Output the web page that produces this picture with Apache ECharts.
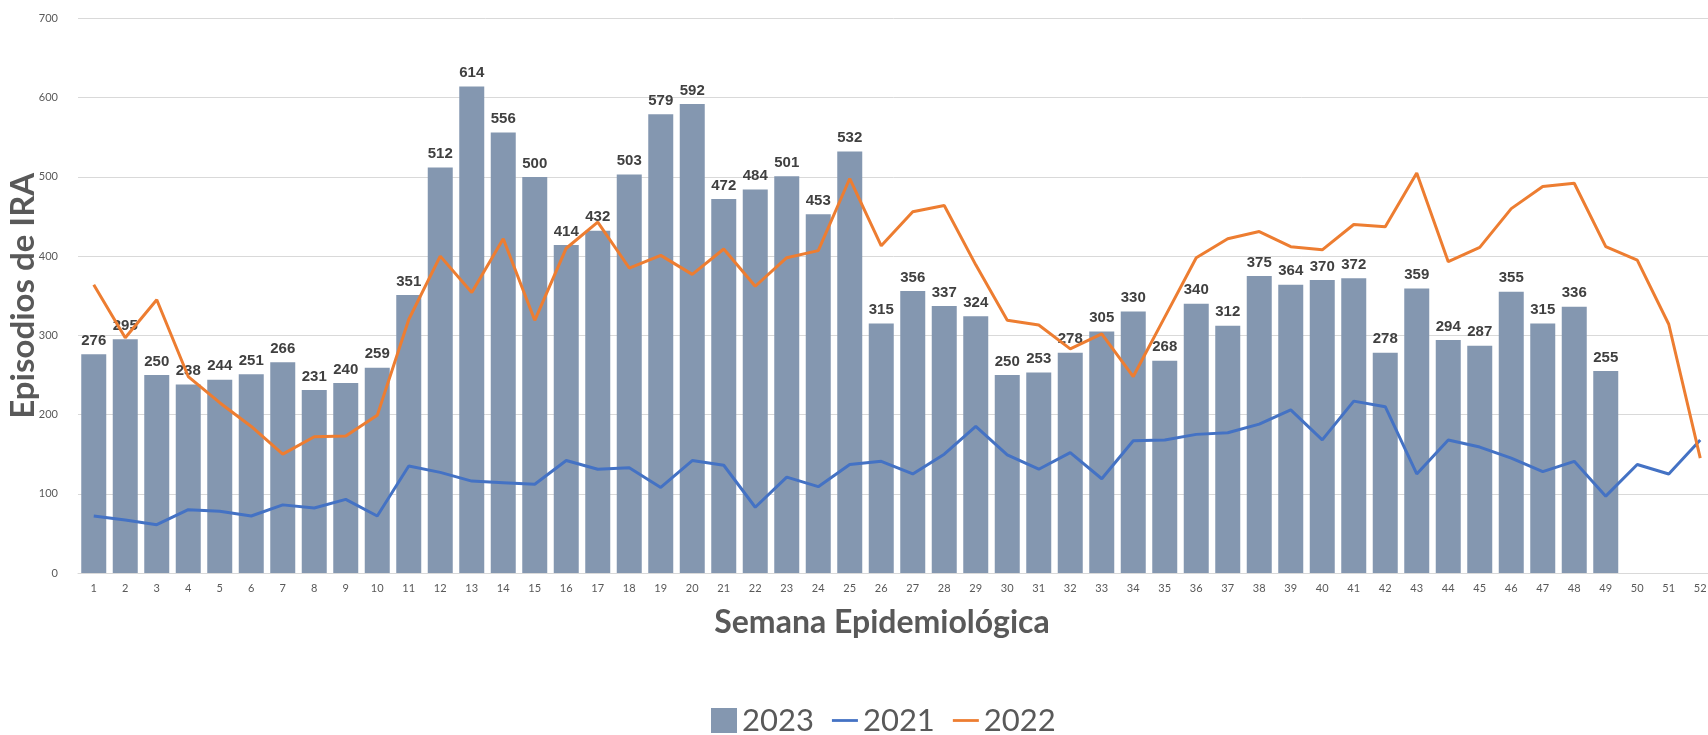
<!DOCTYPE html>
<html>
<head>
<meta charset="utf-8">
<script src="https://cdn.jsdelivr.net/npm/echarts@6/dist/echarts.min.js"></script>
<style>
  html, body { margin: 0; padding: 0; background: #ffffff; }
  #chart { width: 1708px; height: 735px; }
</style>
</head>
<body>
<div id="chart"></div>
<script>
// semanas epidemiologicas 1..52
var semanas = [];
for (var s = 1; s <= 52; s++) semanas.push(String(s));

var episodios2023 = [276, 295, 250, 238, 244, 251, 266, 231, 240, 259,
    351, 512, 614, 556, 500, 414, 432, 503, 579, 592,
    472, 484, 501, 453, 532, 315, 356, 337, 324, 250,
    253, 278, 305, 330, 268, 340, 312, 375, 364, 370,
    372, 278, 359, 294, 287, 355, 315, 336, 255, null, null, null];

var episodios2021 = [72, 67, 61, 80, 78, 72, 86, 82, 93, 72,
    135, 127, 116, 114, 112, 142, 131, 133, 108, 142,
    136, 83, 121, 109, 137, 141, 125, 150, 185, 149,
    131, 152, 119, 167, 168, 175, 177, 188, 206, 168,
    217, 210, 125, 168, 159, 145, 128, 141, 97, 137,
    125, 168];

var episodios2022 = [364, 297, 345, 248, 215, 185, 150, 172, 173, 199,
    320, 400, 354, 422, 319, 410, 443, 385, 401, 377,
    409, 362, 398, 407, 498, 413, 456, 464, 389, 319,
    313, 283, 302, 248, 323, 398, 422, 431, 412, 408,
    440, 437, 505, 393, 411, 460, 488, 492, 412, 395,
    314, 145];

var yTicks = [0, 100, 200, 300, 400, 500, 600, 700];

var grey = '#595959';
var lineIcon = 'path://M0,0 L28,0 L28,3 L0,3 Z';
var chart = echarts.init(document.getElementById('chart'));

var option = {
    backgroundColor: '#ffffff',
    animation: false,
    grid: {
        left: 78,
        width: 1638,
        top: 18.5,
        bottom: 162,
        outerBoundsMode: 'none'
    },
    legend: {
        left: 706,
        top: 700,
        itemWidth: 26,
        itemHeight: 25,
        itemGap: 18,
        textStyle: { fontFamily: 'Lato', fontSize: 31, color: grey },
        data: [
            { name: '2023', icon: 'rect' },
            { name: '2021', icon: lineIcon },
            { name: '2022', icon: lineIcon }
        ]
    },
    xAxis: {
        type: 'category',
        data: semanas,
        name: 'Semana Epidemiológica',
        nameLocation: 'middle',
        nameGap: 34,
        nameTextStyle: {
            fontFamily: 'Lato', fontSize: 32, fontWeight: 'bold', color: grey,
            padding: [0, 30, 0, 0]
        },
        axisLine: { lineStyle: { color: '#d9d9d9', width: 1 } },
        axisTick: { show: false },
        axisLabel: { color: grey, fontFamily: 'Lato', fontSize: 11, margin: 10 }
    },
    yAxis: {
        type: 'value',
        min: yTicks[0],
        max: yTicks[yTicks.length - 1],
        interval: 100,
        name: 'Episodios de IRA',
        nameLocation: 'middle',
        nameGap: 38,
        nameMoveOverlap: false,
        nameTextStyle: { fontFamily: 'Lato', fontSize: 33, fontWeight: 'bold', color: grey },
        axisLine: { show: false },
        axisTick: { show: false },
        axisLabel: { color: grey, fontFamily: 'Lato', fontSize: 11, margin: 20 },
        splitLine: { lineStyle: { color: '#d9d9d9', width: 1 } }
    },
    series: [
        {
            name: '2023',
            type: 'bar',
            data: episodios2023,
            barWidth: 25,
            itemStyle: { color: '#8497B0' },
            label: {
                show: true,
                position: 'top',
                distance: 6,
                color: '#404040',
                fontFamily: "'Liberation Sans Narrow', 'Arial Narrow', 'Liberation Sans', sans-serif",
                fontWeight: 'bold',
                fontSize: 15
            },
            z: 1
        },
        {
            name: '2021',
            type: 'line',
            data: episodios2021,
            symbol: 'none',
            lineStyle: { color: '#4472C4', width: 3 },
            itemStyle: { color: '#4472C4' },
            z: 3
        },
        {
            name: '2022',
            type: 'line',
            data: episodios2022,
            symbol: 'none',
            lineStyle: { color: '#ED7D31', width: 3 },
            itemStyle: { color: '#ED7D31' },
            z: 3
        }
    ]
};

chart.setOption(option);
</script>
</body>
</html>
